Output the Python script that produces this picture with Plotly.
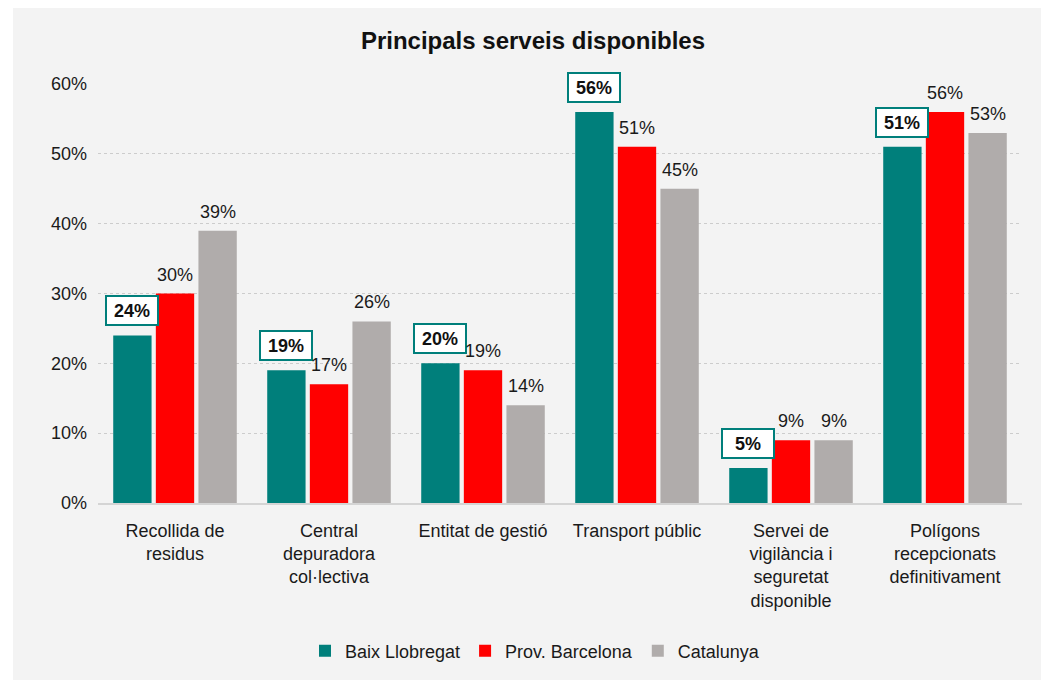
import plotly.graph_objects as go

categories = [
    "Recollida de<br>residus",
    "Central<br>depuradora<br>col·lectiva",
    "Entitat de gestió",
    "Transport públic",
    "Servei de<br>vigilància i<br>seguretat<br>disponible",
    "Polígons<br>recepcionats<br>definitivament",
]
baix_llobregat = [24, 19, 20, 56, 5, 51]
prov_barcelona = [30, 17, 19, 51, 9, 56]
catalunya = [39, 26, 14, 45, 9, 53]

series = [
    ("Baix Llobregat", baix_llobregat, "#007f7b"),
    ("Prov. Barcelona", prov_barcelona, "#ff0000"),
    ("Catalunya", catalunya, "#b0acab"),
]

FONT = "Liberation Sans, Arial, sans-serif"
TXT = "#1a1a1a"
W, H = 1041, 682
ML, MR, MT, MB = 98, 19, 84, 179
BARGAP = 0.17
BARGROUPGAP = 0.1

plot_w = W - ML - MR
plot_h = H - MT - MB
cat_w = plot_w / len(categories)
slot = (1 - BARGAP) * cat_w / len(series)

fig = go.Figure()
for name, vals, col in series:
    fig.add_trace(go.Bar(x=categories, y=vals, name=name, marker_color=col,
                         marker_line_width=0))

annotations = []
for i, (name, vals, col) in enumerate(series):
    shift = (i - 1) * slot
    for c, v in zip(categories, vals):
        if i == 0:
            annotations.append(dict(
                x=c, y=v, xref="x", yref="y", text="<b>%d%%</b>" % v,
                showarrow=False, yanchor="bottom", xshift=shift, yshift=9,
                font=dict(family=FONT, size=18, color="#111111"),
                bgcolor="white", bordercolor="#007f7b", borderwidth=2,
                borderpad=3, width=44, height=21))
        else:
            annotations.append(dict(
                x=c, y=v, xref="x", yref="y", text="%d%%" % v,
                showarrow=False, yanchor="bottom", xshift=shift, yshift=7,
                font=dict(family=FONT, size=18, color=TXT)))

def px_to_paper_x(p):
    return (p - ML) / plot_w

def px_to_paper_y(p):
    return (H - MB - p) / plot_h

shapes = [dict(type="rect", xref="paper", yref="paper", layer="below",
               x0=px_to_paper_x(13), x1=px_to_paper_x(W + 2),
               y0=px_to_paper_y(680), y1=px_to_paper_y(8),
               fillcolor="#f3f3f3", line=dict(width=0))]

fig.update_layout(
    width=W, height=H,
    margin=dict(l=ML, r=MR, t=MT, b=MB),
    paper_bgcolor="white",
    plot_bgcolor="rgba(0,0,0,0)",
    barmode="group", bargap=BARGAP, bargroupgap=BARGROUPGAP,
    font=dict(family=FONT, size=18, color=TXT),
    title=dict(text="<b>Principals serveis disponibles</b>", x=533 / W, y=1 - 41 / H,
               xanchor="center", yanchor="middle",
               font=dict(family=FONT, size=24, color="#111111")),
    legend=dict(orientation="h", x=px_to_paper_x(535), y=px_to_paper_y(651),
                xanchor="center", yanchor="middle", bgcolor="rgba(0,0,0,0)",
                font=dict(family=FONT, size=18, color=TXT)),
    annotations=annotations,
    shapes=shapes,
    xaxis=dict(showline=True, linecolor="#d4d4d4", linewidth=2,
               showgrid=False, ticks="", ticklabelstandoff=10,
               tickfont=dict(size=18, color=TXT)),
    yaxis=dict(range=[0, 60], dtick=10, ticksuffix="%", showgrid=True,
               gridcolor="#cccccc", griddash="dot", gridwidth=1,
               zeroline=False, showline=False, ticks="",
               ticklabelstandoff=10, tickfont=dict(size=18, color=TXT)),
)

fig.write_html("out.html", config={"displayModeBar": False},
               post_script="document.body.style.margin='0px';document.body.style.padding='0px';")
